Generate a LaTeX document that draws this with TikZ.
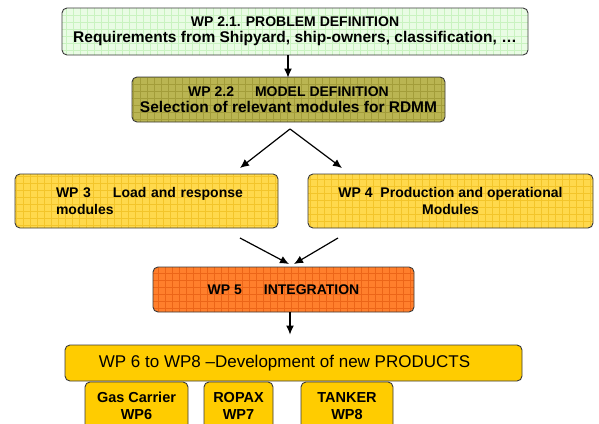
\documentclass[tikz,border=0pt]{standalone}
\usepackage{fontspec}
\setmainfont{Liberation Sans}
\usetikzlibrary{arrows.meta}

\definecolor{pdgreen}{HTML}{E9FCE4}
\definecolor{pdgrid}{HTML}{C9F3C0}
\definecolor{mdolive}{HTML}{BAB552}
\definecolor{mdgrid}{HTML}{A39D3A}
\definecolor{wpyellow}{HTML}{FFD94C}
\definecolor{wpgrid}{HTML}{F3C52A}
\definecolor{intorange}{HTML}{FF7F2C}
\definecolor{intgrid}{HTML}{EC6518}
\definecolor{prodgold}{HTML}{FFCC00}
\definecolor{edgegray}{HTML}{3A3A3A}

\begin{document}
\begin{tikzpicture}[
        x=1pt, y=-1pt,
        X/.style={draw=edgegray, line width=0.9pt, rounded corners=5pt,
            inner sep=0pt, font=\bfseries\fontsize{14}{17}\selectfont},
        G/.style={X, path picture={
            \draw[#1, line width=0.55pt] (path picture bounding box.south west)
                grid[step=7pt] (path picture bounding box.north east);}},
        A/.style={line width=1.2pt, -{Latex[length=9pt, width=8pt]}}
    ]

    \useasboundingbox (0,0) rectangle (599,423);

    % problem and model definition
    \node[G=pdgrid, fill=pdgreen, minimum width=466pt, minimum height=47pt,
        align=center] (pd) at (295,31.5)
        {WP 2.1. PROBLEM DEFINITION\\[-1pt]
         \fontsize{15.5}{16}\selectfont Requirements from Shipyard, ship-owners, classification, \dots};
    \node[G=mdgrid, fill=mdolive, minimum width=313pt, minimum height=45pt,
        align=center] (md) at (288.5,99.5)
        {WP 2.2\hspace{21pt}MODEL DEFINITION\\[-1pt]
         \fontsize{15.5}{16}\selectfont Selection of relevant modules for RDMM};

    % modules
    \node[G=wpgrid, fill=wpyellow, minimum height=54pt, text width=205pt,
        inner xsep=29pt, align=left] (wp3) at (146.5,201)
        {\hspace*{12pt}WP 3\hspace{22pt}Load and response\\\hspace*{12pt}modules};
    \node[G=wpgrid, fill=wpyellow, minimum width=285pt, minimum height=54pt,
        align=center] (wp4) at (450.5,201)
        {WP 4\ \ Production and operational\\Modules};

    \node[G=intgrid, fill=intorange, minimum width=261pt, minimum height=45pt]
        (wp5) at (283.5,289.5) {WP 5\hspace{22pt}INTEGRATION};

    % products
    \node[X, fill=prodgold, minimum width=457pt, minimum height=36pt,
        font=\fontsize{17}{19}\selectfont] (prod) at (293.5,363)
        {WP 6 to WP8 --Development of new PRODUCTS\kern18pt};
    \node[X, fill=prodgold, minimum width=103pt, minimum height=48pt,
        align=center, font=\bfseries\fontsize{14.5}{17}\selectfont] (gas) at (136.5,406) {Gas Carrier\\WP6};
    \node[X, fill=prodgold, minimum width=69pt, minimum height=48pt,
        align=center, font=\bfseries\fontsize{14.5}{17}\selectfont] (ropax) at (238.5,406) {ROPAX\\WP7};
    \node[X, fill=prodgold, minimum width=92pt, minimum height=48pt,
        align=center, font=\bfseries\fontsize{14.5}{17}\selectfont] (tanker) at (347,406) {TANKER\\WP8};

    \coordinate (fork) at (290,129);
    \coordinate (l3) at (240,168);
    \coordinate (l4) at (342,168);
    \coordinate (f3) at (240,238);
    \coordinate (f4) at (338,238);
    \coordinate (j5a) at (289,264);
    \coordinate (j5b) at (294,264);

    \draw[A] (pd.south -| 288,0) -- ([yshift=-1pt]md.north -| 288,0);
    \draw[A] (fork) -- (l3);
    \draw[A] (fork) -- (l4);
    \draw[A] (f3) -- (j5a);
    \draw[A] (f4) -- (j5b);
    \draw[A, shorten >=10pt] (wp5.south -| 290,0) -- (prod.north -| 290,0);
\end{tikzpicture}
\end{document}
